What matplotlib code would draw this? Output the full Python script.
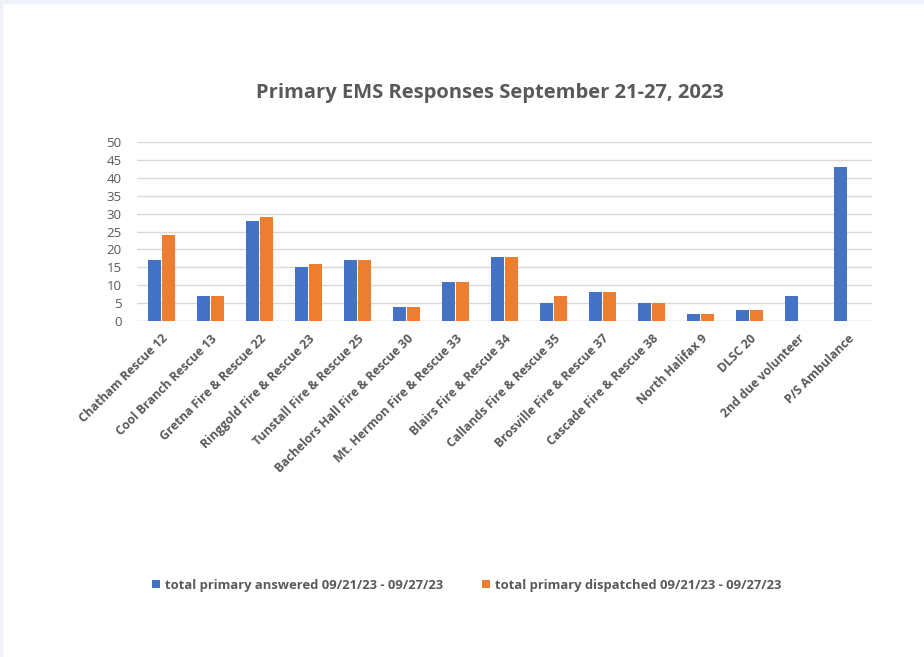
import numpy as np
import matplotlib.pyplot as plt

categories = ["Chatham Rescue 12", "Cool Branch Rescue 13", "Gretna Fire & Rescue 22",
              "Ringgold Fire & Rescue 23", "Tunstall Fire & Rescue 25",
              "Bachelors Hall Fire & Rescue 30", "Mt. Hermon Fire & Rescue 33",
              "Blairs Fire & Rescue 34", "Callands Fire & Rescue 35",
              "Brosville Fire & Rescue 37", "Cascade Fire & Rescue 38",
              "North Halifax 9", "DLSC 20", "2nd due volunteer", "P/S Ambulance"]
answered = [17, 7, 28, 15, 17, 4, 11, 18, 5, 8, 5, 2, 3, 7, 43]
dispatched = [24, 7, 29, 16, 17, 4, 11, 18, 7, 8, 5, 2, 3, 0, 0]
series_names = ["total primary answered 09/21/23 - 09/27/23",
                "total primary dispatched 09/21/23 - 09/27/23"]
yticks = list(range(0, 55, 5))

blue = "#4472c4"
orange = "#ed7d31"
gray = "#595959"

fig = plt.figure(figsize=(9.24, 6.57), dpi=100)
fig.patch.set_facecolor("white")
# light frame of the screenshot
fig.patches.append(plt.Rectangle((0, 0.995), 1, 0.005, transform=fig.transFigure,
                                 color="#eef1f6", zorder=0))
fig.patches.append(plt.Rectangle((0, 0), 0.002, 1, transform=fig.transFigure,
                                 color="#eef1f6", zorder=0))

ax = fig.add_axes([137 / 924, 1 - 321 / 657, 735 / 924, 179 / 657])
x = np.arange(len(categories))
w = 0.25
ax.bar(x - 0.145, answered, w, color=blue, label=series_names[0], zorder=3)
ax.bar(x + 0.145, dispatched, w, color=orange, label=series_names[1], zorder=3)

ax.set_xlim(-0.5, len(categories) - 0.5)
ax.set_ylim(0, 50)
ax.set_yticks(yticks)
ax.yaxis.grid(True, color="#d9d9d9", linewidth=1, zorder=0)
for s in ax.spines.values():
    s.set_visible(False)
ax.axhline(0, color="#d9d9d9", linewidth=1, zorder=2)
ax.tick_params(axis="both", length=0, colors=gray)
ax.tick_params(axis="y", labelsize=9.5, pad=11)
ax.tick_params(axis="x", pad=8)
ax.set_xticks(x)
ax.set_xticklabels(categories, rotation=45, ha="right", rotation_mode="anchor",
                   fontsize=8.8, fontweight="bold", color=gray, family="Open Sans")
for t in ax.get_yticklabels():
    t.set_family("Open Sans")

fig.text(0.53, 1 - 93 / 657, "Primary EMS Responses September 21-27, 2023",
         ha="center", va="center", fontsize=14.5, fontweight="bold", color=gray,
         family="Open Sans")

leg = fig.legend(loc="center", bbox_to_anchor=(0.505, 1 - 585 / 657), ncol=2,
                 frameon=False, handlelength=0.6, handleheight=0.6,
                 columnspacing=3.0, handletextpad=0.4,
                 prop={"family": "Open Sans", "weight": "bold", "size": 9.4})
for t in leg.get_texts():
    t.set_color(gray)

fig.savefig("out.png", dpi=100)
